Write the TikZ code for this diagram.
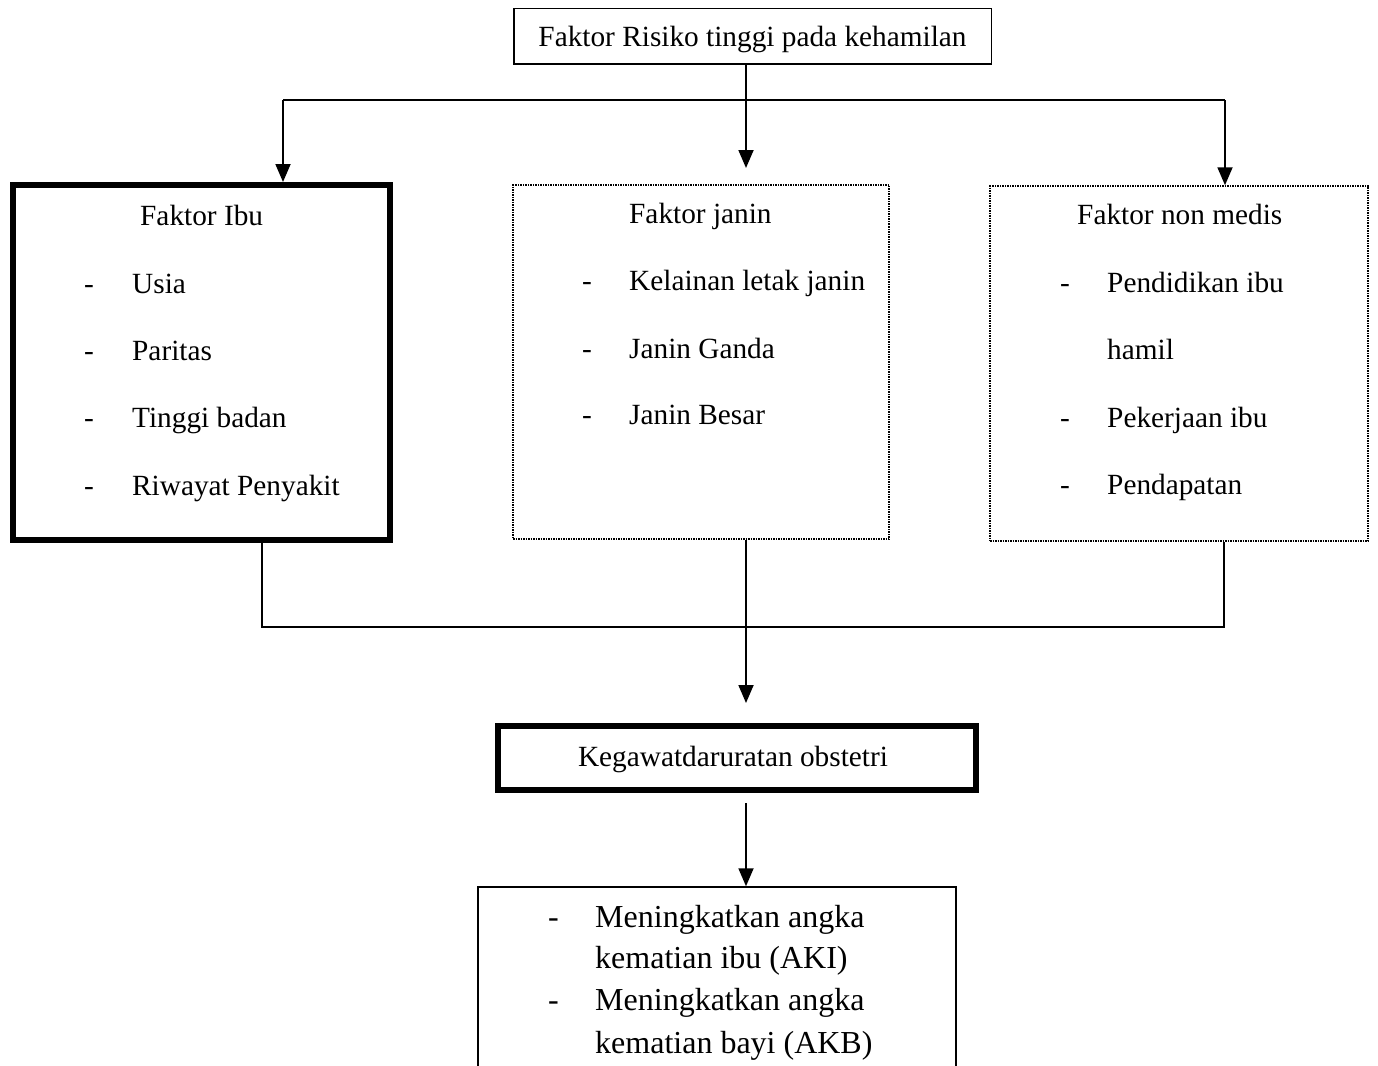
\documentclass[tikz,border=0pt]{standalone}
\usepackage{fontspec}
\setmainfont{Liberation Serif}
\usetikzlibrary{arrows.meta}

\begin{document}
\begin{tikzpicture}[x=1pt, y=-1pt,
kotak/.style={rectangle, draw=black, line width=1.5pt, inner sep=0pt},
kotaktebal/.style={rectangle, draw=black, line width=6pt, inner sep=0pt},
kotaktitik/.style={rectangle, draw=black, line width=1.5pt, dash pattern=on 1.5pt off 1pt, inner sep=0pt},
teks/.style={font=\fontsize{29.3}{35}\selectfont, inner sep=0pt, anchor=base west},
teksbesar/.style={font=\fontsize{32}{38}\selectfont, inner sep=0pt, anchor=base west},
garis/.style={line width=1.8pt},
panah/.style={line width=1.8pt, -{Triangle[length=18pt, width=15pt]}},
]
\useasboundingbox (0,0) rectangle (1378,1065);

% kotak utama
\node[kotak, minimum width=477.5pt, minimum height=55.5pt,
      font=\fontsize{29.3}{35}\selectfont, text height=22pt, text depth=1pt] (risiko) at (752.5,36.5)
      {Faktor Risiko tinggi pada kehamilan};

\node[kotaktebal, minimum width=377pt, minimum height=355pt] (ibu) at (201.5,362.5) {};
\node[kotaktitik, minimum width=376pt, minimum height=354pt] (janin) at (701,362) {};
\node[kotaktitik, minimum width=378pt, minimum height=355pt] (nonmedis) at (1179,363.5) {};

\node[kotaktebal, minimum width=478pt, minimum height=64pt,
      font=\fontsize{29.3}{35}\selectfont, text height=20pt, text depth=4pt] (gawat) at (737,758)
      {\hspace*{-8pt}Kegawatdaruratan obstetri};

\node[kotak, minimum width=478pt, minimum height=213pt] (akibat) at (717,993.5) {};

% isi faktor ibu
\node[teks] (judulibu) at (140,225) {Faktor Ibu};
\node[teks] (d1) at (84,293) {-};  \node[teks] (usia) at (132,293) {Usia};
\node[teks] (d2) at (84,360) {-};  \node[teks] (paritas) at (132,360) {Paritas};
\node[teks] (d3) at (84,427) {-};  \node[teks] (tinggi) at (132,427) {Tinggi badan};
\node[teks] (d4) at (84,495) {-};  \node[teks] (riwayat) at (132,495) {Riwayat Penyakit};

% isi faktor janin
\node[teks] (judul janin) at (629,223) {Faktor janin};
\node[teks] (d5) at (582,290) {-};  \node[teks] (letak) at (629,290) {Kelainan letak janin};
\node[teks] (d6) at (582,358) {-};  \node[teks] (ganda) at (629,358) {Janin Ganda};
\node[teks] (d7) at (582,424) {-};  \node[teks] (besar) at (629,424) {Janin Besar};

% isi faktor non medis
\node[teks] (judulnon) at (1077,224) {Faktor non medis};
\node[teks] (d8) at (1060,292) {-};  \node[teks] (didik) at (1107,292) {Pendidikan ibu};
\node[teks] (hamil) at (1107,359) {hamil};
\node[teks] (d9) at (1060,427) {-};  \node[teks] (kerja) at (1107,427) {Pekerjaan ibu};
\node[teks] (d10) at (1060,494) {-}; \node[teks] (dapat) at (1107,494) {Pendapatan};

% isi akibat
\node[teksbesar] (d11) at (548,927) {-};  \node[teksbesar] (aki1) at (595,927) {Meningkatkan angka};
\node[teksbesar] (aki2) at (595,968) {kematian ibu (AKI)};
\node[teksbesar] (d12) at (548,1010) {-}; \node[teksbesar] (akb1) at (595,1010) {Meningkatkan angka};
\node[teksbesar] (akb2) at (595,1053) {kematian bayi (AKB)};

% cabang atas
\coordinate (cabangkiri) at (283,100);
\coordinate (cabangkanan) at (1225,100);
\coordinate (ujungtengah) at (746,168);
\draw[garis] (cabangkiri) -- (cabangkanan);
\draw[panah] (risiko.south -| ujungtengah) -- (ujungtengah);
\draw[panah] (cabangkiri) -- (cabangkiri |- ibu.north);
\draw[panah] (cabangkanan) -- (cabangkanan |- nonmedis.north);

% gabungan bawah
\coordinate (gabungkiri) at (262,627);
\coordinate (gabungtengah) at (746,627);
\coordinate (gabungkanan) at (1224,627);
\coordinate (ujunggawat) at (746,703);
\draw[garis] (gabungkiri |- ibu.south) -- (gabungkiri) -- (gabungkanan) -- (gabungkanan |- nonmedis.south);
\draw[garis] (gabungtengah |- janin.south) -- (gabungtengah);
\draw[panah] (gabungtengah) -- (ujunggawat);

\coordinate (mulaiakibat) at (746,803);
\draw[panah] (mulaiakibat) -- (mulaiakibat |- akibat.north);
\end{tikzpicture}
\end{document}
